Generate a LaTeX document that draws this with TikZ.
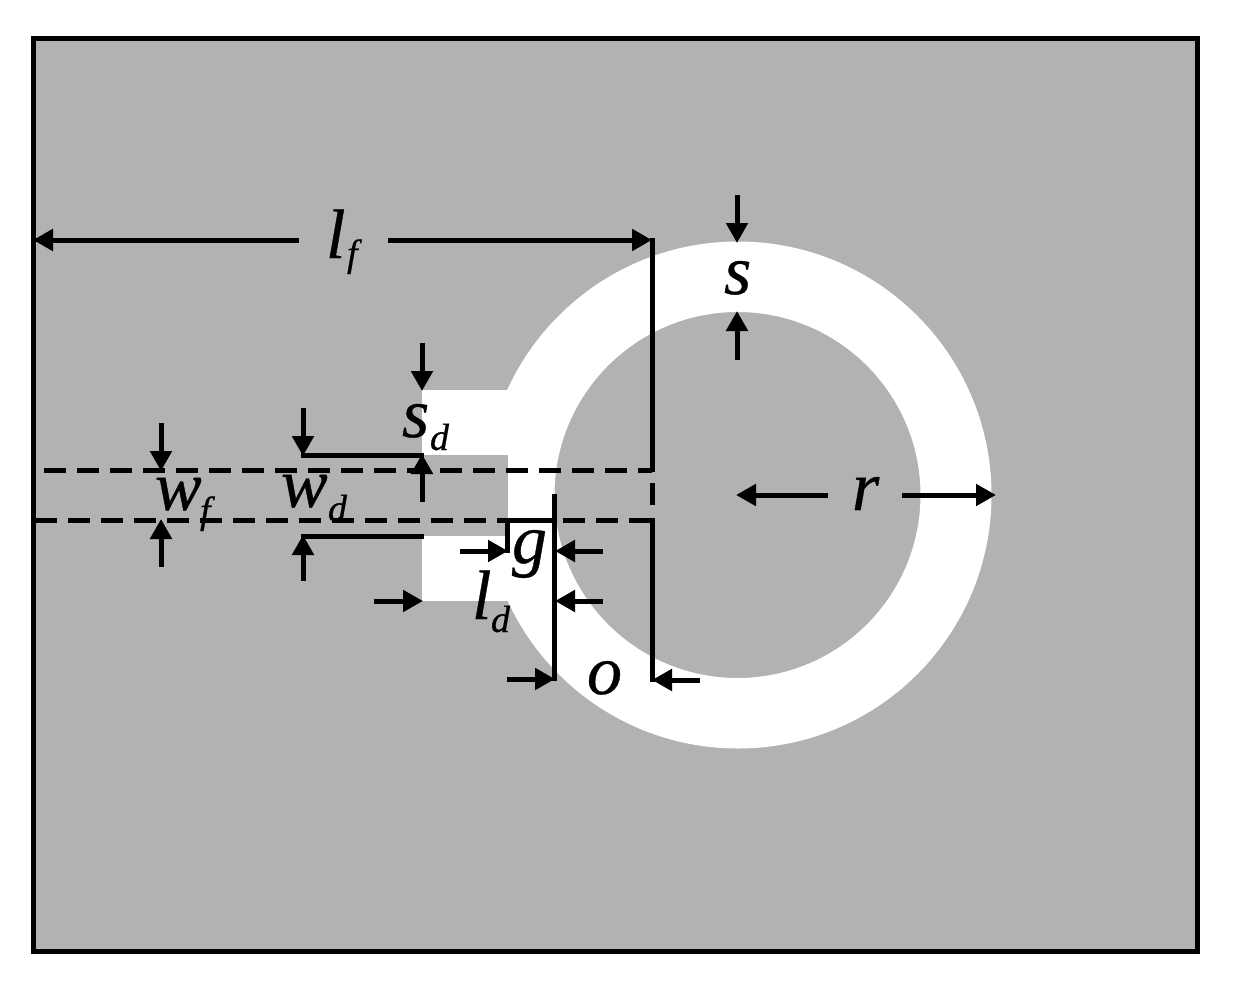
\documentclass[tikz,border=0pt]{standalone}
\usepackage{fontspec}
\setmainfont[ItalicFeatures={FakeBold=0.5}]{Liberation Serif}
\usetikzlibrary{arrows.meta}
\definecolor{boardgray}{HTML}{B2B2B2}
\newcommand{\symb}[1]{\fontsize{70}{70}\selectfont\itshape #1}
\newcommand{\subsymb}[1]{\fontsize{38}{38}\selectfont\itshape #1}
\tikzset{
  dim/.style={line width=5pt},
  dimarrow/.style={line width=5pt, -{Triangle[length=20pt,width=21pt]}},
  dimdash/.style={line width=5pt, dash pattern=on 22pt off 11pt},
  lbl/.style={anchor=base west, inner sep=0pt, outer sep=0pt}
}
\begin{document}
\begin{tikzpicture}[x=1pt,y=-1pt]
  \useasboundingbox (0,0) rectangle (1239,993);

  % Ground plane
  \fill[boardgray] (33,38) rectangle (1197,951);

  % Ring and stubs
  \fill[white, even odd rule] (738,495) circle (253.5) (737.5,495) circle (183);
  \fill[boardgray] (470,455) rectangle (508,536);
  \fill[white] (422,390) rectangle (512,455);
  \fill[white] (422,536) rectangle (512,601);
  \draw[line width=5pt] (33,38) rectangle (1197,951);

  % Feed lines
  \draw[dimdash] (44,470) -- (652,470);
  \draw[dimdash] (35,520) -- (652,520);
  \draw[dim] (652,483) -- (652,505);

  % Length of feed
  \draw[dimarrow] (299,240) -- (33,240);
  \draw[dimarrow] (388,240) -- (652,240);
  \draw[dim] (652,238) -- (652,472);
  \draw[dim] (652,518) -- (652,682);
  \node[lbl] (lf) at (326,258) {\symb{l}};
  \node[lbl] (lfsub) at (347,266) {\subsymb{f}};

  % Overlap
  \draw[dimarrow] (700,680) -- (652,680);
  \draw[dim] (554,494) -- (554,681);
  \draw[dimarrow] (507,679) -- (555,679);
  \node[lbl] (o) at (587,694) {\symb{o}};

  % Gap
  \draw[dim] (530,520) -- (507,520) -- (507,553);
  \draw[dimarrow] (460,551) -- (508,551);
  \draw[dimarrow] (603,551) -- (555,551);
  \node[lbl] (g) at (512,563) {\symb{g}};

  % Stub length
  \draw[dimarrow] (374,601) -- (423,601);
  \draw[dimarrow] (603,601) -- (555,601);
  \node[lbl] (ld) at (472,619) {\symb{l}};
  \node[lbl] (ldsub) at (491,632) {\subsymb{d}};

  % Stub spacing
  \draw[dimarrow] (422,343) -- (422,391);
  \draw[dimarrow] (422,502) -- (422,454);
  \node[lbl] (sd) at (402,437) {\symb{s}};
  \node[lbl] (sdsub) at (430,450) {\subsymb{d}};

  % Stub width
  \draw[dimarrow] (303,408) -- (303,456);
  \draw[dimarrow] (303,581) -- (303,535);
  \draw[dim] (301,455) -- (424,455);
  \draw[dim] (301,536) -- (424,536);
  \node[lbl] (wd) at (281,507) {\symb{w}};
  \node[lbl] (wdsub) at (328,521) {\subsymb{d}};

  % Feed width
  \draw[dimarrow] (161,423) -- (161,471);
  \draw[dimarrow] (161,567) -- (161,519);
  \node[lbl] (wf) at (155,510) {\symb{w}};
  \node[lbl] (wfsub) at (200,523) {\subsymb{f}};

  % Ring width
  \draw[dimarrow] (737,195) -- (737,243);
  \draw[dimarrow] (737,360) -- (737,311);
  \node[lbl] (s) at (724,294) {\symb{s}};

  % Radius
  \draw[dimarrow] (828,495) -- (736,495);
  \draw[dimarrow] (902,495) -- (996,495);
  \node[lbl] (r) at (852,510) {\symb{r}};
\end{tikzpicture}
\end{document}
